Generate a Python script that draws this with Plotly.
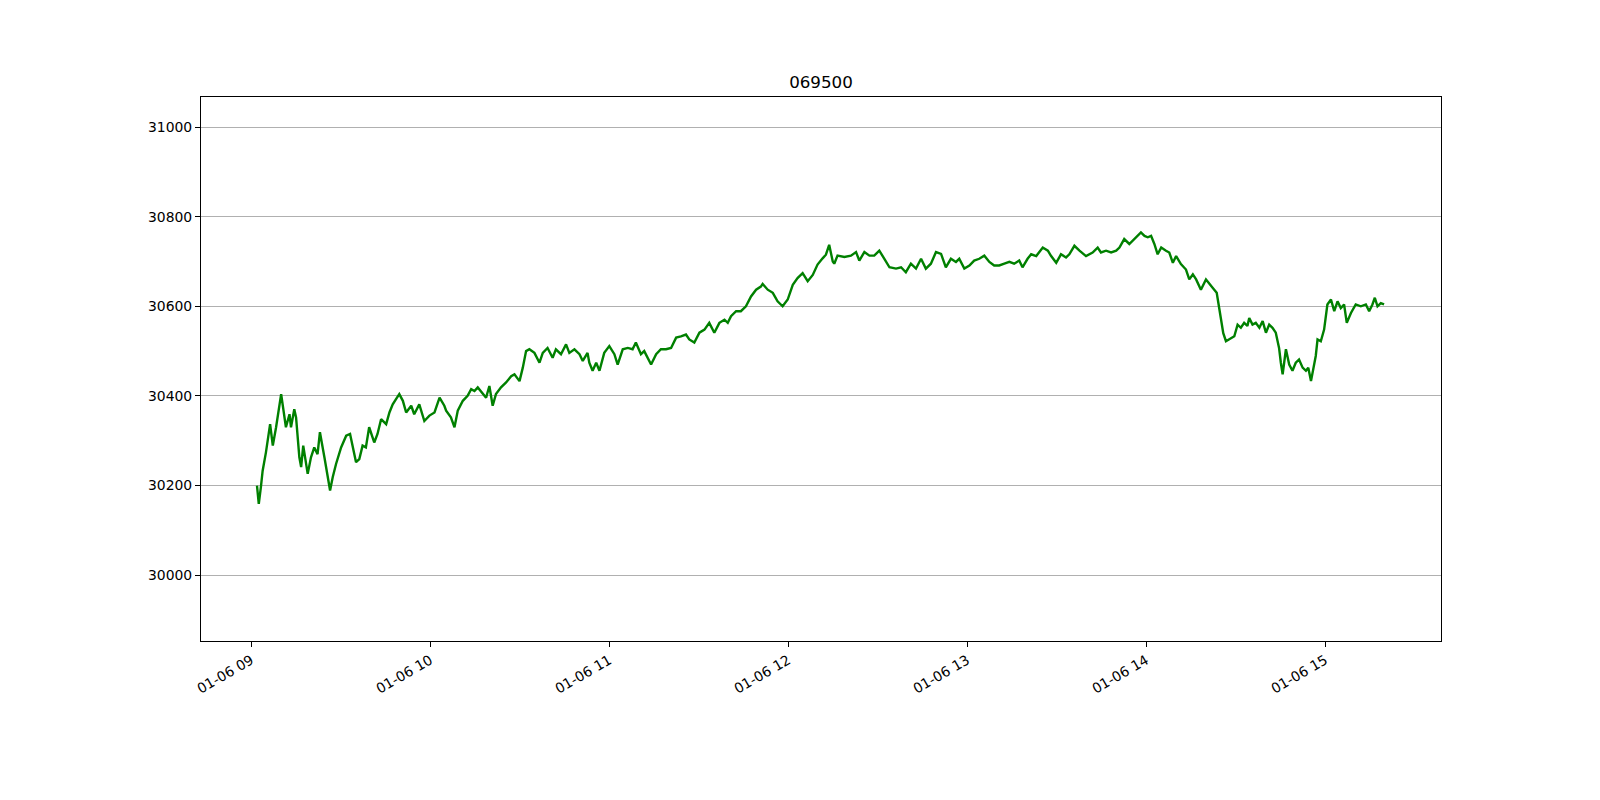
import pandas as pd
import plotly.graph_objects as go

title_text = "069500"
session_date = "2023-01-06"

# minutes after 09:00
minutes = [
    1.9, 2.5, 3.2, 3.8, 4.9, 6.3, 7.2, 8.3, 10.0, 11.1, 11.6, 12.8, 13.3, 14.4, 15.0,
    16.1, 16.7, 17.4, 18.9, 20.0, 21.1, 22.2, 23.0, 24.5, 25.6, 26.4, 27.3, 28.4,
    30.1, 31.8, 33.1, 34.0, 35.1, 36.2, 37.3, 38.4, 39.5, 41.2, 42.3, 43.5, 45.2,
    46.3, 47.4, 48.5, 49.6, 50.8, 51.9, 53.6, 54.6, 56.3, 58.0, 59.7, 61.4, 63.1,
    64.7, 65.3, 66.9, 68.1, 69.2, 70.9, 72.5, 73.7, 74.8, 75.9, 77.6, 78.7, 79.8,
    80.9, 82.0, 83.7, 85.4, 87.1, 88.2, 89.9, 91.0, 92.1, 93.2, 94.9, 96.6, 97.7,
    99.3, 101.0, 102.1, 103.8, 105.5, 106.6, 108.3, 110.0, 111.1, 112.7, 113.3,
    114.4, 115.6, 116.7, 118.3, 120.0, 121.7, 122.8, 124.5, 126.2, 127.8, 128.9,
    130.6, 131.7, 134.0, 135.7, 137.3, 139.0, 140.7, 142.4, 144.0, 145.7, 146.8,
    148.5, 150.2, 151.9, 153.5, 155.2, 156.9, 158.6, 159.7, 160.8, 162.5, 164.1,
    165.8, 167.5, 169.2, 170.8, 171.4, 173.1, 174.8, 176.4, 178.1, 179.8, 181.5,
    183.1, 184.8, 186.5, 188.2, 189.8, 191.5, 192.6, 193.7, 194.9, 195.4, 196.5,
    198.8, 201.0, 202.7, 203.8, 205.5, 207.2, 208.8, 210.5, 212.2, 213.9, 216.1,
    217.8, 219.4, 221.1, 222.8, 224.5, 226.1, 227.8, 229.5, 231.2, 232.8, 234.5,
    236.2, 237.3, 239.0, 240.7, 242.3, 244.0, 245.7, 247.4, 249.0, 250.7, 252.4,
    254.1, 255.7, 257.4, 258.5, 260.2, 261.4, 263.1, 265.3, 267.0, 268.1, 269.8,
    271.4, 273.1, 274.2, 275.9, 277.6, 279.8, 282.0, 283.7, 284.8, 286.5, 288.2,
    289.9, 291.0, 292.6, 294.3, 296.0, 297.1, 298.2, 299.4, 300.5, 301.6, 302.7,
    303.8, 305.0, 306.6, 307.7, 308.9, 310.0, 311.6, 313.3, 314.4, 315.6, 316.7,
    318.3, 320.0, 321.1, 322.3, 323.6, 324.5, 325.2, 325.8, 326.7, 327.8, 329.5,
    330.6, 331.7, 332.8, 333.9, 334.5, 335.6, 336.7, 337.9, 339.0, 340.1, 341.2,
    342.3, 343.4, 344.5, 345.1, 345.7, 346.8, 347.9, 349.0, 350.1, 351.2, 352.4,
    353.5, 354.3, 355.2, 356.1, 356.8, 357.4, 358.5, 359.6, 360.7, 361.9, 363.0,
    364.1, 365.2, 366.3, 367.2, 368.6, 370.2, 371.9, 373.6, 374.7, 375.8, 376.6,
    377.5, 378.6, 379.7,
]

prices = [
    30200, 30159, 30196, 30233, 30274, 30337, 30289, 30330, 30404, 30352, 30330, 30359, 30330, 30370, 30352,
    30263, 30241, 30289, 30226, 30263, 30285, 30270, 30319, 30263, 30219, 30189, 30219, 30248,
    30285, 30311, 30315, 30285, 30252, 30259, 30289, 30285, 30330, 30296, 30315, 30348, 30337,
    30363, 30381, 30393, 30404, 30389, 30363, 30378, 30359, 30381, 30344, 30356, 30363, 30396,
    30378, 30367, 30352, 30330, 30367, 30389, 30400, 30415, 30411, 30419, 30404, 30396, 30422,
    30378, 30404, 30419, 30430, 30444, 30448, 30433, 30463, 30500, 30504, 30496, 30474, 30496,
    30507, 30485, 30504, 30493, 30515, 30496, 30504, 30493, 30478, 30496, 30474,
    30456, 30474, 30456, 30496, 30511, 30493, 30470, 30504, 30507, 30504, 30519,
    30493, 30500, 30470, 30493, 30504, 30504, 30507, 30530, 30533, 30537, 30526,
    30519, 30541, 30548, 30563, 30541, 30563, 30570, 30563, 30578, 30589, 30589,
    30600, 30622, 30637, 30644, 30650, 30637, 30630, 30611, 30600, 30615, 30648,
    30663, 30674, 30656, 30670, 30693, 30707, 30715, 30737, 30700, 30695, 30713,
    30710, 30713, 30721, 30702, 30721, 30713, 30713, 30724, 30706, 30687, 30684,
    30687, 30676, 30695, 30684, 30706, 30684, 30695, 30721, 30717, 30687, 30706,
    30699, 30706, 30684, 30691, 30702, 30706, 30713, 30699, 30691, 30691, 30695,
    30699, 30695, 30702, 30687, 30706, 30716, 30712, 30731, 30724, 30712, 30697,
    30716, 30709, 30716, 30735, 30724, 30712, 30720, 30731, 30720, 30724, 30720,
    30724, 30731, 30750, 30739, 30750, 30757, 30765, 30757, 30754, 30757, 30739,
    30716, 30731, 30724, 30720, 30697, 30712, 30694, 30682, 30660, 30671, 30660,
    30637, 30660, 30652, 30641, 30630, 30596, 30566, 30540, 30522, 30526, 30533,
    30559, 30552, 30563, 30556, 30574, 30559, 30563, 30552, 30567, 30541, 30559,
    30552, 30541, 30507, 30474, 30448, 30504, 30470, 30456, 30474, 30481, 30463,
    30456, 30463, 30433, 30463, 30489, 30526, 30522, 30548, 30604, 30615, 30589,
    30611, 30596, 30604, 30563, 30585, 30604, 30600, 30604, 30589, 30604, 30619,
    30600, 30607, 30604,
]

y_ticks = [30000, 30200, 30400, 30600, 30800, 31000]
x_tick_hours = [9, 10, 11, 12, 13, 14, 15]

base = pd.Timestamp(session_date + " 09:00:00")
times = [base + pd.Timedelta(minutes=m) for m in minutes]
tick_vals = [pd.Timestamp(session_date) + pd.Timedelta(hours=h) for h in x_tick_hours]
tick_text = [t.strftime("%m-%d %H") for t in tick_vals]

fig = go.Figure()
fig.add_trace(go.Scatter(x=times, y=prices, mode="lines",
                         line=dict(color="#008000", width=2.4), showlegend=False))

axis_common = dict(showline=True, linecolor="black", linewidth=1, mirror=True,
                   ticks="outside", ticklen=5, tickcolor="black", tickwidth=1,
                   tickfont=dict(family="DejaVu Sans", size=13.9, color="black"),
                   zeroline=False)

fig.update_xaxes(range=[pd.Timestamp(session_date + " 08:43:08"), pd.Timestamp(session_date + " 15:38:47")],
                 tickvals=tick_vals, ticktext=tick_text, tickangle=-30, showgrid=False, **axis_common)
fig.update_yaxes(range=[29853, 31067], tickvals=y_ticks, ticktext=[str(v) for v in y_ticks],
                 showgrid=True, gridcolor="#b0b0b0", gridwidth=1, **axis_common)

fig.update_layout(
    width=1600, height=800,
    margin=dict(l=193, r=167, t=89, b=167),
    paper_bgcolor="white", plot_bgcolor="white",
    title=dict(text=title_text, x=0.5, xref="paper", xanchor="center",
               y=1 - 74 / 800, yref="container", yanchor="middle",
               font=dict(family="DejaVu Sans", size=16.7, color="black")),
)

fig.write_html("out.html")
